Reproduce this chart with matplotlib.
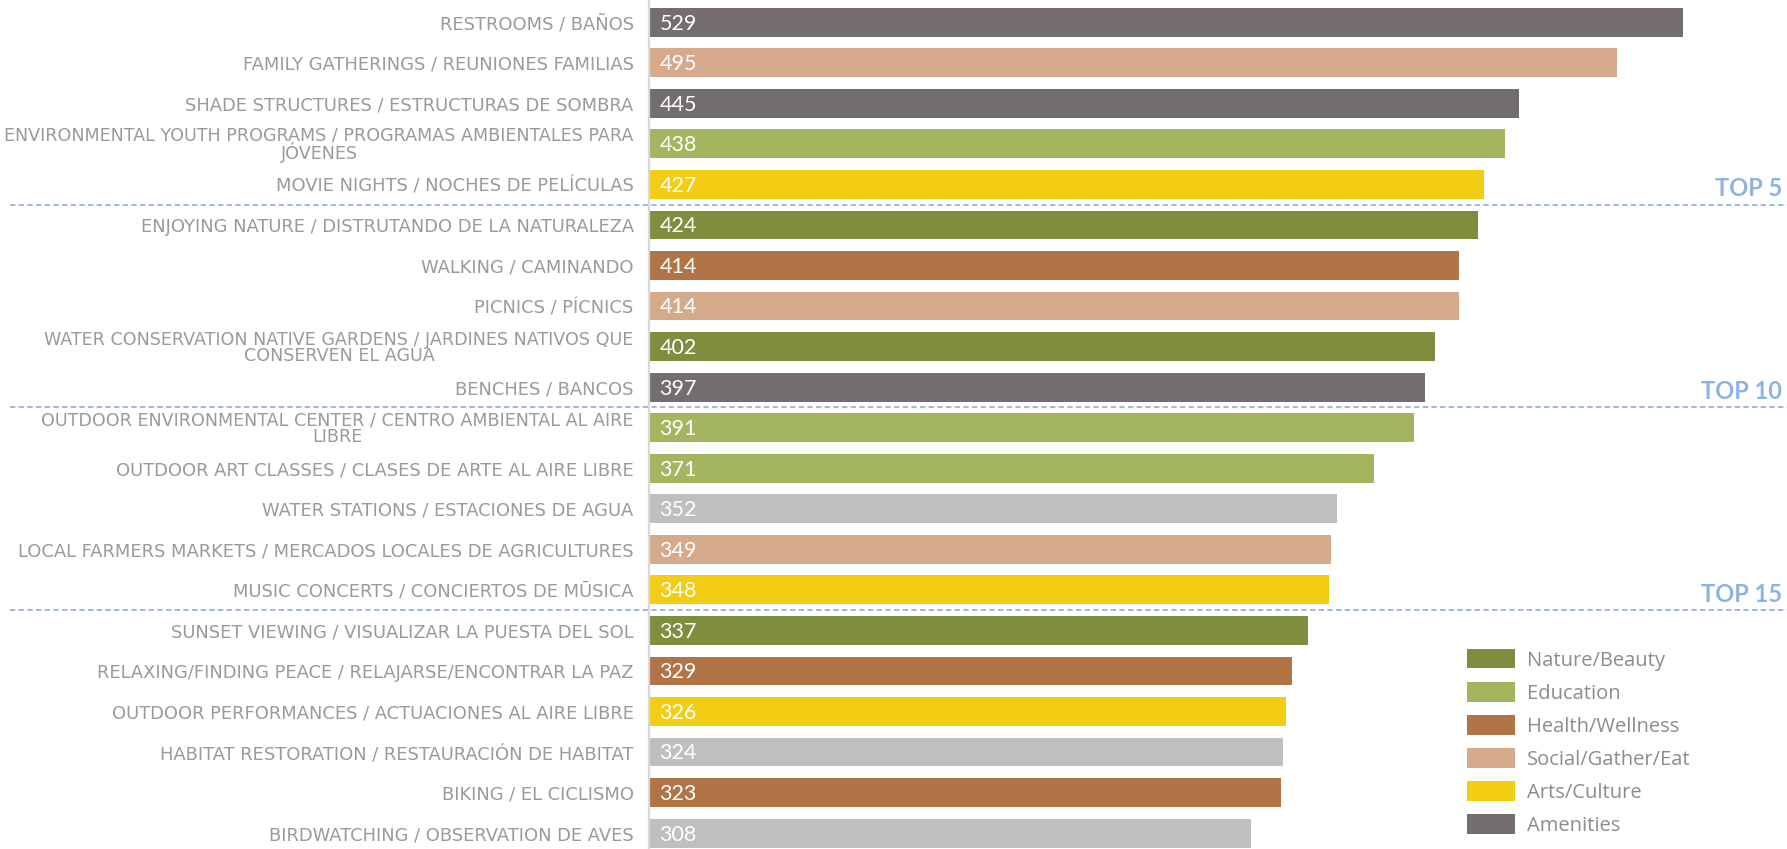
import matplotlib
matplotlib.use("Agg")
import matplotlib.pyplot as plt
from matplotlib.patches import Patch
from matplotlib.lines import Line2D
import matplotlib.transforms as mtransforms

# ---------------- data ----------------
labels = [
    "RESTROOMS / BAÑOS",
    "FAMILY GATHERINGS / REUNIONES FAMILIAS",
    "SHADE STRUCTURES / ESTRUCTURAS DE SOMBRA",
    "ENVIRONMENTAL YOUTH PROGRAMS / PROGRAMAS AMBIENTALES PARA\nJÓVENES",
    "MOVIE NIGHTS / NOCHES DE PELÍCULAS",
    "ENJOYING NATURE / DISTRUTANDO DE LA NATURALEZA",
    "WALKING / CAMINANDO",
    "PICNICS / PÍCNICS",
    "WATER CONSERVATION NATIVE GARDENS / JARDINES NATIVOS QUE\nCONSERVEN EL AGUA",
    "BENCHES / BANCOS",
    "OUTDOOR ENVIRONMENTAL CENTER / CENTRO AMBIENTAL AL AIRE\nLIBRE",
    "OUTDOOR ART CLASSES / CLASES DE ARTE AL AIRE LIBRE",
    "WATER STATIONS / ESTACIONES DE AGUA",
    "LOCAL FARMERS MARKETS / MERCADOS LOCALES DE AGRICULTURES",
    "MUSIC CONCERTS / CONCIERTOS DE MŪSICA",
    "SUNSET VIEWING / VISUALIZAR LA PUESTA DEL SOL",
    "RELAXING/FINDING PEACE / RELAJARSE/ENCONTRAR LA PAZ",
    "OUTDOOR PERFORMANCES / ACTUACIONES AL AIRE LIBRE",
    "HABITAT RESTORATION / RESTAURACIÓN DE HABITAT",
    "BIKING / EL CICLISMO",
    "BIRDWATCHING / OBSERVATION DE AVES",
]
values = [529, 495, 445, 438, 427, 424, 414, 414, 402, 397,
          391, 371, 352, 349, 348, 337, 329, 326, 324, 323, 308]
groups = ["Amenities", "Social/Gather/Eat", "Amenities", "Education", "Arts/Culture",
          "Nature/Beauty", "Health/Wellness", "Social/Gather/Eat", "Nature/Beauty", "Amenities",
          "Education", "Education", "Other", "Social/Gather/Eat", "Arts/Culture",
          "Nature/Beauty", "Health/Wellness", "Arts/Culture", "Other", "Health/Wellness",
          "Other"]
legend_groups = ["Nature/Beauty", "Education", "Health/Wellness",
                 "Social/Gather/Eat", "Arts/Culture", "Amenities"]
tier_labels = ["TOP 5", "TOP 10", "TOP 15"]
tier_breaks = [5, 10, 15]

group_colors = {
    "Nature/Beauty": "#7f8d3f",
    "Education": "#a3b55e",
    "Health/Wellness": "#b07446",
    "Social/Gather/Eat": "#d4aa8b",
    "Arts/Culture": "#f2cd14",
    "Amenities": "#736e6d",
    "Other": "#bfbfbf",
}

# ---------------- figure ----------------
W, H = 1787, 849
fig = plt.figure(figsize=(W / 100, H / 100), dpi=100)
ax_left = 649 / W
ax = fig.add_axes([ax_left, 0.0, 1 - ax_left, 1.0])

y = list(range(len(values)))
colors = [group_colors[g] for g in groups]
ax.barh(y, values, height=0.71, color=colors, zorder=2)

ax.set_xlim(0, 582)
ax.set_ylim(20.39, -0.547)

ax.set_yticks(y)
ax.set_yticklabels(labels)
for lab in ax.get_yticklabels():
    lab.set_fontfamily("DejaVu Sans")
    lab.set_fontsize(12.9 if len(lab.get_text()) < 58 else 12.6)
    lab.set_color("#9a9a9a")
    lab.set_multialignment("center")
    lab.set_linespacing(0.86)
ax.tick_params(axis="y", length=0, pad=11)
ax.set_xticks([])

for s in ["top", "right", "bottom"]:
    ax.spines[s].set_visible(False)
ax.spines["left"].set_color("#d9d9d9")
ax.spines["left"].set_linewidth(1.6)

# value labels inside bars
for yi, v in zip(y, values):
    ax.annotate(str(v), xy=(0, yi), xytext=(7.5, -1), textcoords="offset points",
                ha="left", va="center", color="white", fontsize=15.5,
                fontfamily="Lato", zorder=3)

# dashed separators spanning the figure width
trans = mtransforms.blended_transform_factory(fig.transFigure, ax.transData)
for b in tier_breaks:
    ax.add_line(Line2D([10 / W, 1.0], [b - 0.5, b - 0.5], transform=trans,
                       color="#9ab4d8", lw=1.3, ls=(0, (3, 1.8)), clip_on=False, zorder=1))

# tier labels
for t, b in zip(tier_labels, tier_breaks):
    ax.annotate(t, xy=(1782 / W, b - 0.5), xycoords=trans, xytext=(0, 3),
                textcoords="offset points", ha="right", va="bottom",
                fontsize=17, fontweight="bold", fontfamily="Lato",
                color="#8db3e2", annotation_clip=False)

# legend
handles = [Patch(facecolor=group_colors[g], edgecolor="none") for g in legend_groups]
fs = 14.5
fs_px = fs * 100 / 72
leg = fig.legend(handles, legend_groups, loc="upper left",
                 bbox_to_anchor=(1467 / W, 1 - 649 / H), frameon=False,
                 borderpad=0, borderaxespad=0, handlelength=48 / fs_px,
                 handleheight=22.4 / fs_px, handletextpad=0.58, labelspacing=0.57,
                 prop={"family": "Open Sans", "size": fs})
for txt in leg.get_texts():
    txt.set_color("#8c8c8c")

fig.savefig("out.png", dpi=100)
